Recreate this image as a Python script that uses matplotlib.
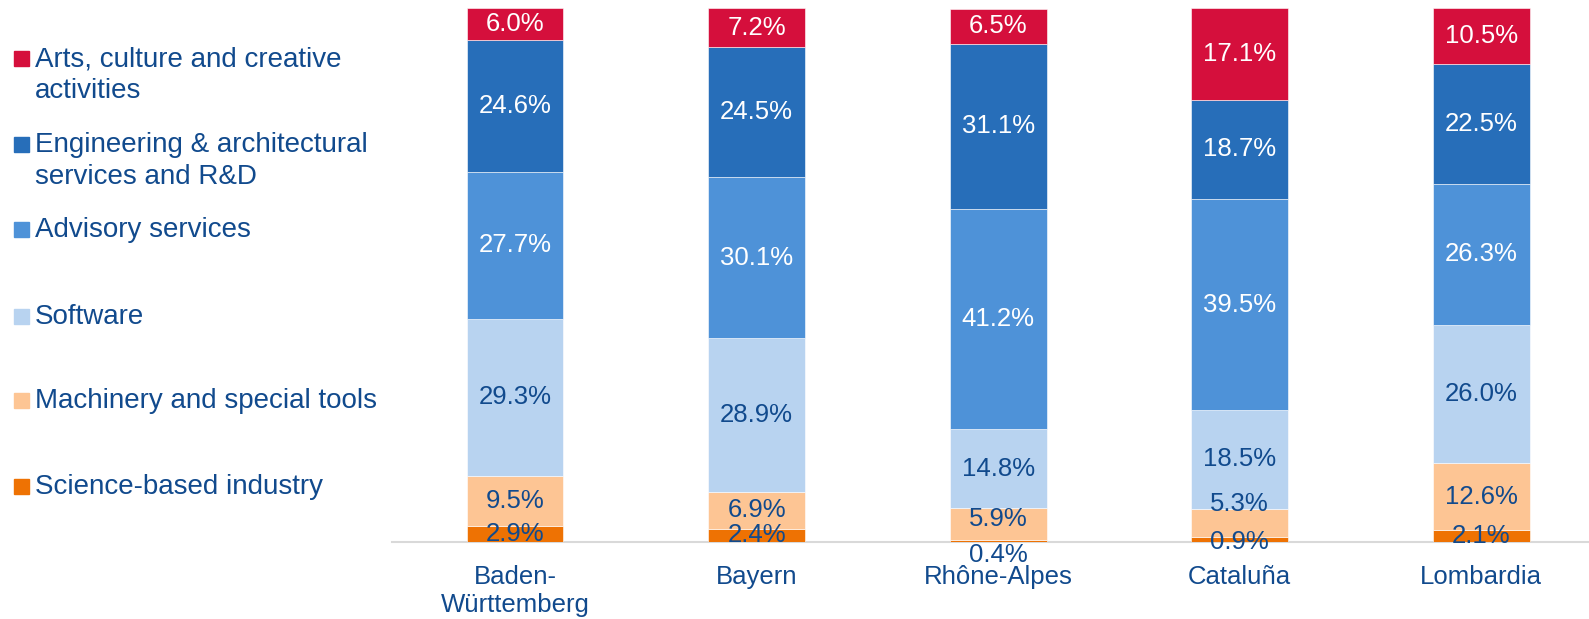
import numpy as np
import matplotlib.pyplot as plt
from matplotlib.patches import Rectangle

plt.rcParams['font.family'] = ['Liberation Sans', 'DejaVu Sans']

# regions and sector shares (%), bottom to top
regions = ['Baden-\nWürttemberg', 'Bayern', 'Rhône-Alpes', 'Cataluña', 'Lombardia']
science = [2.9, 2.4, 0.4, 0.9, 2.1]
machinery = [9.5, 6.9, 5.9, 5.3, 12.6]
software = [29.3, 28.9, 14.8, 18.5, 26.0]
advisory = [27.7, 30.1, 41.2, 39.5, 26.3]
engineering = [24.6, 24.5, 31.1, 18.7, 22.5]
arts = [6.0, 7.2, 6.5, 17.1, 10.5]

series = [science, machinery, software, advisory, engineering, arts]
names = ['Science-based industry', 'Machinery and special tools', 'Software',
         'Advisory services', 'Engineering & architectural\nservices and R&D',
         'Arts, culture and creative\nactivities']
colors = ['#EE7203', '#FDC594', '#B8D3F0', '#4E92D8', '#276EB9', '#D50F3C']
txt_colors = ['#114A8D', '#114A8D', '#114A8D', 'white', 'white', 'white']
dark = '#114A8D'

# label moved where excel pushed overlapping labels (series idx, region idx) -> y
label_pos = {(0, 2): -2.4, (1, 2): 4.2, (0, 3): 0.0, (1, 3): 7.1}

fig = plt.figure(figsize=(15.89, 6.19), dpi=100)
ax = fig.add_axes([392 / 1589, 1 - 541.7 / 619, 1 - 392 / 1589, 533.4 / 619])

x = np.arange(len(regions))
bottom = np.zeros(len(regions))
for i, vals in enumerate(series):
    vals = np.array(vals)
    ax.bar(x, vals, 0.4, bottom=bottom, color=colors[i], edgecolor='white', linewidth=0.4)
    for j, v in enumerate(vals):
        y = label_pos.get((i, j), bottom[j] + v / 2)
        ax.text(x[j], y, f'{v:.1f}%', ha='center', va='center', fontsize=18.5,
                color=txt_colors[i])
    bottom += vals

ax.set_xlim(-0.51, 4.446)
ax.set_ylim(0, 100)
ax.set_xticks(x)
ax.set_xticklabels(regions, fontsize=18.5, color=dark)
ax.tick_params(axis='x', length=0, pad=17)
ax.set_yticks([])
for s in ['top', 'right', 'left']:
    ax.spines[s].set_visible(False)
ax.spines['bottom'].set_color('#D9D9D9')
ax.spines['bottom'].set_linewidth(1.5)
ax.spines['bottom'].set_zorder(0)

# legend drawn by hand: square sits on the first text line
legend_base = [66, 152, 237, 324, 408, 494]
leg_order = [5, 4, 3, 2, 1, 0]
for k, idx in enumerate(leg_order):
    yb = legend_base[k]
    fig.add_artist(Rectangle((14 / 1589, 1 - yb / 619), 15 / 1589, 15 / 619,
                             transform=fig.transFigure, color=colors[idx]))
    lines = names[idx].split('\n')
    for n, line in enumerate(lines):
        fig.text(35 / 1589, 1 - (yb + n * 32) / 619, line, fontsize=20,
                 color=dark, va='baseline', ha='left')

fig.savefig('out.png', dpi=100)
